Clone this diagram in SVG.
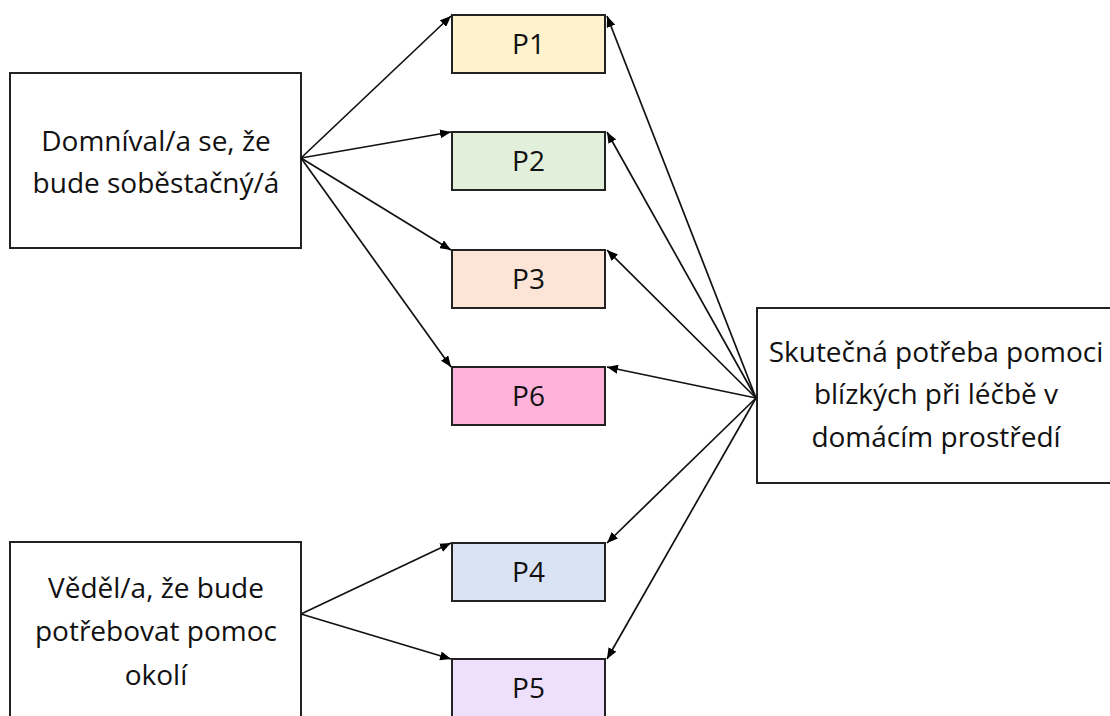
<svg xmlns="http://www.w3.org/2000/svg" width="1110" height="716" viewBox="0 0 1110 716">
<defs>
<marker id="ah" viewBox="0 0 11 9" refX="11" refY="4.5" markerWidth="11" markerHeight="9" markerUnits="userSpaceOnUse" orient="auto">
<path d="M0,0 L11,4.5 L0,9 Z" fill="#000"/>
</marker>
</defs>
<style>
.box{stroke:#222;stroke-width:2}
.big{fill:#fff}
.t{font-family:"Open Sans","Noto Sans","Liberation Sans",sans-serif;font-size:28px;fill:#111;text-anchor:middle}
.conn line{stroke:#111;stroke-width:1.7;marker-end:url(#ah)}
</style>
<rect width="1110" height="716" fill="#fff"/>
<g id="nodeA">
<rect class="box big" x="10" y="73" width="291" height="175"/>
<text class="t" x="156" y="151">Domníval/a se, že</text>
<text class="t" x="156" y="193">bude soběstačný/á</text>
</g>
<g id="nodeB">
<rect class="box big" x="10" y="542" width="291" height="190"/>
<text class="t" x="156" y="598">Věděl/a, že bude</text>
<text class="t" x="156" y="641">potřebovat pomoc</text>
<text class="t" x="156" y="685">okolí</text>
</g>
<g id="nodeC">
<rect class="box big" x="757" y="308" width="370" height="175"/>
<text class="t" x="936" y="362">Skutečná potřeba pomoci</text>
<text class="t" x="936" y="404">blízkých při léčbě v</text>
<text class="t" x="936" y="447">domácím prostředí</text>
</g>
<g id="P1">
<rect class="box" x="452" y="15" width="153" height="58" fill="#FFF2CC"/>
<text class="t" x="528.5" y="54">P1</text>
</g>
<g id="P2">
<rect class="box" x="452" y="132" width="153" height="58" fill="#E2EFDA"/>
<text class="t" x="528.5" y="171">P2</text>
</g>
<g id="P3">
<rect class="box" x="452" y="250" width="153" height="58" fill="#FCE4D6"/>
<text class="t" x="528.5" y="289">P3</text>
</g>
<g id="P6">
<rect class="box" x="452" y="367" width="153" height="58" fill="#FFB3DA"/>
<text class="t" x="528.5" y="406">P6</text>
</g>
<g id="P4">
<rect class="box" x="452" y="543" width="153" height="58" fill="#DAE3F3"/>
<text class="t" x="528.5" y="582">P4</text>
</g>
<g id="P5">
<rect class="box" x="452" y="659" width="153" height="70" fill="#EEE0FC"/>
<text class="t" x="528.5" y="698">P5</text>
</g>
<g id="connectors" class="conn">
<line x1="301" y1="158" x2="451" y2="16"/>
<line x1="301" y1="158" x2="451" y2="132"/>
<line x1="301" y1="158" x2="451" y2="250"/>
<line x1="301" y1="158" x2="451" y2="367"/>
<line x1="301" y1="614" x2="451" y2="543"/>
<line x1="301" y1="614" x2="451" y2="659"/>
<line x1="756" y1="398" x2="607" y2="16"/>
<line x1="756" y1="398" x2="607" y2="132"/>
<line x1="756" y1="398" x2="607" y2="250"/>
<line x1="756" y1="398" x2="607" y2="367"/>
<line x1="756" y1="398" x2="607" y2="543"/>
<line x1="756" y1="398" x2="607" y2="659"/>
</g>
</svg>
